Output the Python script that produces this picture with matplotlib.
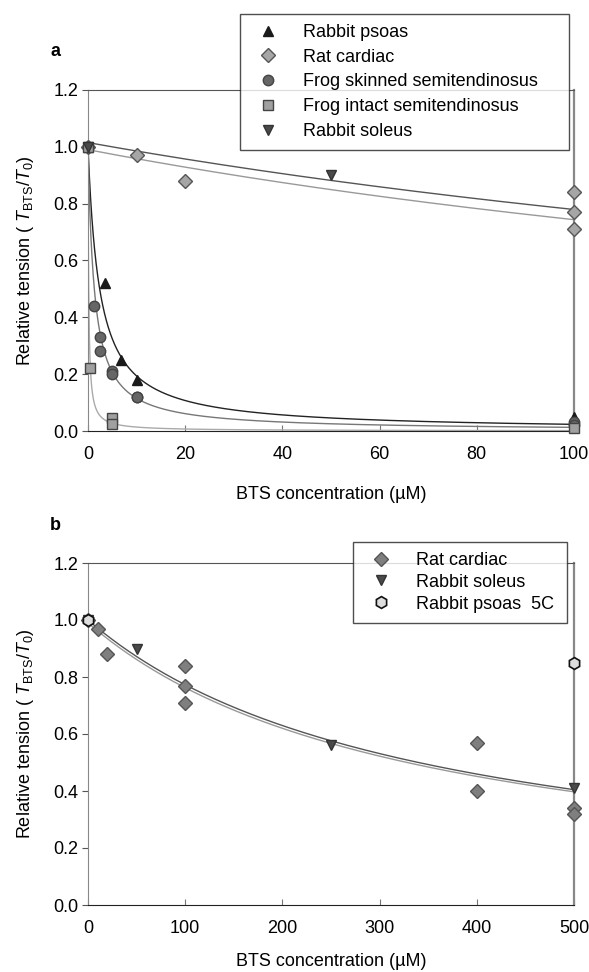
import numpy as np
import matplotlib
matplotlib.use("Agg")
import matplotlib.pyplot as plt

plt.rcParams["font.family"] = ["Liberation Sans", "DejaVu Sans"]
plt.rcParams["mathtext.fontset"] = "custom"
plt.rcParams["mathtext.rm"] = "Liberation Sans"
plt.rcParams["mathtext.it"] = "Liberation Sans:italic"

# panel a data
psoas_x = [0, 3.5, 6.7, 10, 100, 100]
psoas_y = [1.0, 0.52, 0.25, 0.18, 0.05, 0.04]
cardiac_a_x = [0, 10, 20, 100, 100, 100]
cardiac_a_y = [1.0, 0.97, 0.88, 0.84, 0.77, 0.71]
skinned_x = [0, 1.2, 2.5, 2.5, 5, 5, 10, 10, 100, 100]
skinned_y = [1.0, 0.44, 0.33, 0.28, 0.21, 0.20, 0.12, 0.12, 0.03, 0.02]
intact_x = [0, 0.4, 5, 5, 100]
intact_y = [1.0, 0.22, 0.045, 0.025, 0.01]
soleus_a_x = [0, 50]
soleus_a_y = [1.0, 0.9]

# panel b data
cardiac_b_x = [0, 10, 20, 100, 100, 100, 400, 400, 500, 500]
cardiac_b_y = [1.0, 0.97, 0.88, 0.84, 0.77, 0.71, 0.57, 0.40, 0.34, 0.32]
soleus_b_x = [0, 50, 250, 500]
soleus_b_y = [1.0, 0.9, 0.56, 0.41]
psoas5c_x = [0, 500]
psoas5c_y = [1.0, 0.85]

# fitted hyperbolic curves: amplitude, K (uM)
fit_a = {"psoas": (1.0, 2.4), "skinned": (1.0, 1.3), "intact": (1.0, 0.14),
         "soleus": (1.015, 331), "cardiac": (0.99, 302)}
fit_b = {"soleus": (1.0, 340), "cardiac": (0.99, 335)}

fig = plt.figure(figsize=(5.89, 9.72), dpi=100)
W, H = 589, 972
FS = 13


def make_axes(top, bottom, xpad):
    ax = fig.add_axes([88 / W, 1 - bottom / H, 486 / W, (bottom - top) / H])
    ax.set_ylim(0, 1.2)
    ax.set_yticks(np.arange(0, 1.21, 0.2))
    ax.set_yticklabels(["%.1f" % v for v in np.arange(0, 1.21, 0.2)])
    ax.tick_params(axis="y", direction="out", length=4, pad=3, labelsize=FS, color="#555555")
    ax.tick_params(axis="x", direction="in", length=4, labelsize=FS, color="#777777", pad=11)
    ax.spines["left"].set_color("#888888")
    ax.spines["bottom"].set_color("#222222")
    ax.spines["top"].set_color("#555555")
    ax.spines["right"].set_color("#888888")
    ax.spines["right"].set_linewidth(1.6)
    ax.set_ylabel(r"Relative tension ( $\mathit{T}_{\mathrm{BTS}}/\mathit{T}_{0}$)", fontsize=FS, labelpad=12)
    ax.set_xlabel("BTS concentration (\u00b5M)", fontsize=FS, labelpad=xpad)
    return ax


def curve(ax, xmax, amp, k, color, lw=1.0):
    x = np.linspace(0, xmax, 1500)
    ax.plot(x, amp / (1 + x / k), color=color, lw=lw, zorder=2)


def legend(ax, handles, box, spacing):
    x0, top, x1, bottom = box
    leg = ax.legend(handles=handles, loc="upper left", mode="expand",
                    bbox_to_anchor=(x0 / W, 1 - bottom / H, (x1 - x0) / W, (bottom - top) / H),
                    bbox_transform=fig.transFigure,
                    fontsize=FS, frameon=True, fancybox=False, edgecolor="#222222",
                    labelspacing=spacing, handletextpad=0.95, borderpad=0.55, handlelength=2.0,
                    borderaxespad=0)
    leg.get_frame().set_linewidth(1.0)
    leg.set_zorder(10)
    return leg


# ---- panel a
ax = make_axes(90, 431, 16)
ax.set_xlim(0, 100)
ax.set_xticks(range(0, 101, 20))
curve(ax, 100, *fit_a["psoas"], "#222222")
curve(ax, 100, *fit_a["skinned"], "#777777")
curve(ax, 100, *fit_a["intact"], "#aaaaaa")
curve(ax, 100, *fit_a["soleus"], "#555555")
curve(ax, 100, *fit_a["cardiac"], "#999999")

kw = dict(ls="none", ms=7.5, clip_on=False, zorder=4)
h1, = ax.plot(psoas_x, psoas_y, marker="^", color="#1a1a1a", mec="#1a1a1a", label="Rabbit psoas", **kw)
h2, = ax.plot(cardiac_a_x, cardiac_a_y, marker="D", ms=7, color="#a6a6a6", mec="#555555",
              ls="none", clip_on=False, zorder=4, label="Rat cardiac")
h3, = ax.plot(skinned_x, skinned_y, marker="o", color="#666666", mec="#444444", label="Frog skinned semitendinosus", **kw)
h4, = ax.plot(intact_x, intact_y, marker="s", color="#a0a0a0", mec="#444444", label="Frog intact semitendinosus", **kw)
h5, = ax.plot(soleus_a_x, soleus_a_y, marker="v", color="#4a4a4a", mec="#333333", label="Rabbit soleus", **kw)
legend(ax, [h1, h2, h3, h4, h5], (240, 14, 569, 148), 0.43)
fig.text(55 / W, 1 - 52 / H, "a", fontsize=FS, fontweight="bold", va="center", ha="center")

# ---- panel b
bx = make_axes(563, 905, 11)
bx.set_xlim(0, 500)
bx.set_xticks(range(0, 501, 100))
curve(bx, 500, *fit_b["soleus"], "#555555")
curve(bx, 500, *fit_b["cardiac"], "#999999")
g1, = bx.plot(cardiac_b_x, cardiac_b_y, marker="D", ms=7, color="#7f7f7f", mec="#555555",
              ls="none", clip_on=False, zorder=4, label="Rat cardiac")
g2, = bx.plot(soleus_b_x, soleus_b_y, marker="v", color="#4a4a4a", mec="#333333", label="Rabbit soleus", **kw)
g3, = bx.plot(psoas5c_x, psoas5c_y, marker="h", ms=8.5, color="#dddddd", mec="#111111", mew=1.2,
              ls="none", clip_on=False, zorder=4, label="Rabbit psoas  5C")
legend(bx, [g1, g2, g3], (353, 542, 567, 621), 0.27)
fig.text(55 / W, 1 - 525 / H, "b", fontsize=FS, fontweight="bold", va="center", ha="center")

fig.savefig("out.png", dpi=100)
